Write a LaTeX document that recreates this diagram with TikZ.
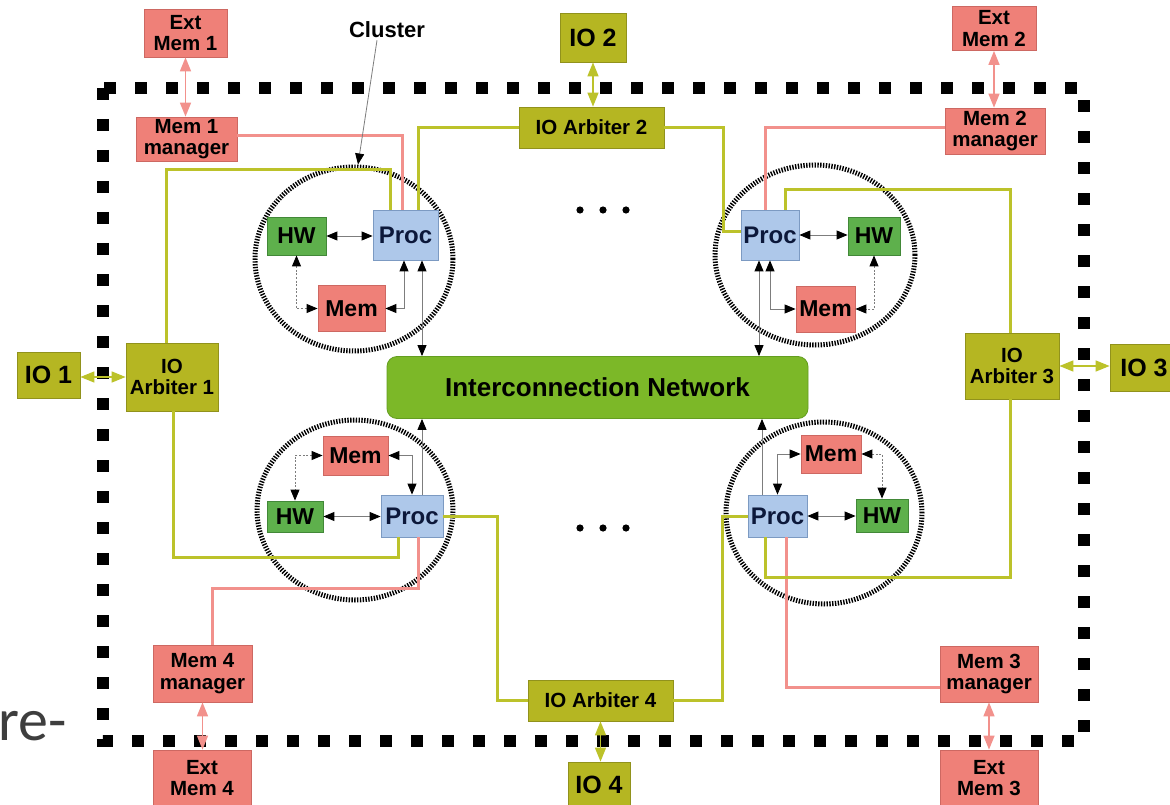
\documentclass[tikz,border=0pt]{standalone}
\usepackage{fontspec}
\setmainfont{Liberation Sans}
\newfontfamily\slidefont{Carlito}
\usetikzlibrary{arrows.meta,shapes.geometric}

\definecolor{cSalFill}{RGB}{239,128,120}
\definecolor{cSalLine}{RGB}{205,104,98}
\definecolor{cSalWire}{RGB}{242,145,140}
\definecolor{cOlvFill}{RGB}{181,182,34}
\definecolor{cOlvLine}{RGB}{145,146,28}
\definecolor{cOlvWire}{RGB}{188,194,42}
\definecolor{cHwFill}{RGB}{94,176,76}
\definecolor{cHwLine}{RGB}{66,136,56}
\definecolor{cProcFill}{RGB}{174,200,234}
\definecolor{cProcLine}{RGB}{124,154,194}
\definecolor{cProcText}{RGB}{12,24,58}
\definecolor{cNetFill}{RGB}{124,184,40}
\definecolor{cNetLine}{RGB}{100,158,32}
\definecolor{cLink}{RGB}{125,125,125}
\definecolor{cSlide}{RGB}{62,62,62}

\tikzset{
  blk/.tip={Triangle[length=11pt,width=9pt,color=black]},
  salt/.tip={Triangle[length=14pt,width=11pt,color=cSalWire]},
  olvt/.tip={Triangle[length=14pt,width=11pt,color=cOlvWire]},
}

\begin{document}
\begin{tikzpicture}[x=1pt,y=-1pt,
  lbl/.style={font=\bfseries\fontsize{20.5}{21.5}\selectfont, align=center, inner sep=0pt, line width=0.8pt},
  salbox/.style={lbl, fill=cSalFill, draw=cSalLine},
  olvbox/.style={lbl, fill=cOlvFill, draw=cOlvLine},
  iobox/.style={olvbox, font=\bfseries\fontsize{25}{27}\selectfont},
  hwbox/.style={lbl, fill=cHwFill, draw=cHwLine, font=\bfseries\fontsize{23}{25}\selectfont},
  procbox/.style={lbl, fill=cProcFill, draw=cProcLine, text=cProcText, font=\bfseries\fontsize{24}{26}\selectfont},
  membox/.style={lbl, fill=cSalFill, draw=cSalLine, font=\bfseries\fontsize{23}{25}\selectfont},
  netbox/.style={lbl, fill=cNetFill, draw=cNetLine, rounded corners=10pt, font=\bfseries\fontsize{26}{28}\selectfont},
  cluster/.style={ellipse, draw=black, line width=5pt, dash pattern=on 1.4pt off 1.4pt, inner sep=0pt},
  salw/.style={draw=cSalWire, line width=3pt},
  olw/.style={draw=cOlvWire, line width=3pt},
  link/.style={draw=cLink, line width=0.9pt, arrows={blk-blk}},
  uplink/.style={draw=cLink, line width=0.9pt, arrows={-blk}},
  dlink/.style={link, dash pattern=on 2pt off 1.6pt},
  salarrow/.style={draw=cSalWire, line width=1.5pt, arrows={salt-salt}},
  olvarrow/.style={draw=cOlvWire, line width=1.5pt, arrows={olvt-olvt}},
  chipborder/.style={draw=black, line width=12pt, dash pattern=on 12pt off 19pt},
]
\useasboundingbox (0,0) rectangle (1170,805);
\fill[white] (0,0) rectangle (1170,805);

% leftover slide text at the lower left
\node[anchor=base west, inner sep=0pt, text=cSlide, font=\slidefont\fontsize{60}{66}\selectfont] (slidetext) at (-2,740) {re-};

% chip boundary
\draw[chipborder] (103,88) rectangle (1084,741);

% clusters
\node[cluster, minimum width=198pt, minimum height=184pt] (clTL) at (354,259) {};
\node[cluster, minimum width=200pt, minimum height=180pt] (clTR) at (815,255) {};
\node[cluster, minimum width=196pt, minimum height=180pt] (clBL) at (355,510) {};
\node[cluster, minimum width=196pt, minimum height=182pt] (clBR) at (824,513) {};

% external memories, managers, IO
\node[salbox, minimum width=83pt, minimum height=48pt] (ext1) at (185.5,33) {Ext\\Mem 1};
\node[salbox, minimum width=101pt, minimum height=44pt] (mgr1) at (186.5,139) {Mem 1\\manager};
\node[iobox, minimum width=66pt, minimum height=49pt] (io2) at (593,37.5) {IO 2};
\node[olvbox, minimum width=145pt, minimum height=41pt] (arb2) at (591.5,127.5) {IO Arbiter 2};
\node[salbox, minimum width=84pt, minimum height=44pt] (ext2) at (994,28.5) {Ext\\Mem 2};
\node[salbox, minimum width=100pt, minimum height=46pt] (mgr2) at (995,131) {Mem 2\\manager};
\node[iobox, minimum width=63pt, minimum height=46pt] (io1) at (48.5,375) {IO 1};
\node[olvbox, minimum width=92pt, minimum height=68pt] (arb1) at (172,377) {IO\\Arbiter 1};
\node[olvbox, minimum width=94pt, minimum height=66pt] (arb3) at (1012,366) {IO\\Arbiter 3};
\node[iobox, minimum width=68pt, minimum height=47pt] (io3) at (1144,367.5) {IO 3};
\node[salbox, minimum width=99pt, minimum height=57pt] (mgr4) at (202.5,673.5) {Mem 4\\manager};
\node[salbox, minimum width=98pt, minimum height=56pt] (ext4) at (202,778) {Ext\\Mem 4};
\node[olvbox, minimum width=145pt, minimum height=41pt] (arb4) at (600.5,700.5) {IO Arbiter 4};
\node[iobox, minimum width=62pt, minimum height=46pt] (io4) at (599,785) {IO 4};
\node[salbox, minimum width=98pt, minimum height=56pt] (mgr3) at (989,674) {Mem 3\\manager};
\node[salbox, minimum width=98pt, minimum height=56pt] (ext3) at (989,778) {Ext\\Mem 3};

% interconnection network
\node[netbox, minimum width=421pt, minimum height=62pt] (net) at (597.5,387.5) {Interconnection Network};

% cluster contents
\node[hwbox, minimum width=59pt, minimum height=38pt] (hwTL) at (296.5,236) {HW};
\node[procbox, minimum width=65pt, minimum height=50pt] (procTL) at (405.5,235) {Proc};
\node[membox, minimum width=67pt, minimum height=46pt] (memTL) at (351.5,308.5) {Mem};

\node[procbox, minimum width=58pt, minimum height=50pt] (procTR) at (770,235) {Proc};
\node[hwbox, minimum width=52pt, minimum height=38pt] (hwTR) at (874,236) {HW};
\node[membox, minimum width=59pt, minimum height=46pt] (memTR) at (825.5,309) {Mem};

\node[membox, minimum width=65pt, minimum height=39pt] (memBL) at (355.5,455.5) {Mem};
\node[hwbox, minimum width=56pt, minimum height=31pt] (hwBL) at (295,516.5) {HW};
\node[procbox, minimum width=62pt, minimum height=42pt] (procBL) at (412,516) {Proc};

\node[membox, minimum width=60pt, minimum height=38pt] (memBR) at (831,454) {Mem};
\node[procbox, minimum width=59pt, minimum height=42pt] (procBR) at (777.5,516) {Proc};
\node[hwbox, minimum width=52pt, minimum height=33pt] (hwBR) at (882,515.5) {HW};

% memory manager wires
\draw[salw] ([yshift=3pt]mgr1.east) -| ([xshift=-3.5pt]procTL.north);
\draw[salw] ([yshift=3pt]mgr2.west) -| ([xshift=-5pt]procTR.north);
\draw[salw] ([xshift=6pt]procBL.south) -- ++(0,51) -| ([xshift=9.5pt]mgr4.north);
\draw[salw] ([xshift=8.5pt]procBR.south) |- ([yshift=-13pt]mgr3.west);

% IO arbiter wires
\draw[olw] ([xshift=-15.5pt]procTL.north) -- ++(0,-40) -| ([xshift=-6pt]arb1.north);
\draw[olw] ([xshift=12.5pt]procTL.north) |- (arb2.west);
\draw[olw] (arb2.east) -- ++(59,0) |- ([yshift=3pt]procTR.west);
\draw[olw] ([xshift=15pt]procTR.north) -- ++(0,-20) -| ([xshift=-2pt]arb3.north);
\draw[olw] ([xshift=-14pt]procBL.south) -- ++(0,20) -| ([xshift=1pt]arb1.south);
\draw[olw] (procBL.east) -- ++(54,0) |- (arb4.west);
\draw[olw] (arb4.east) -- ++(49,0) |- (procBR.west);
\draw[olw] ([xshift=-12.5pt]procBR.south) -- ++(0,40) -| ([xshift=-2pt]arb3.south);

% links inside the clusters
\draw[link] (hwTL.east) -- (hwTL.east -| procTL.west);
\draw[dlink] (hwTL.south) |- (memTL.west);
\draw[link] (memTL.east) -| ([xshift=-1.5pt]procTL.south);
\coordinate (tlbus) at ([xshift=16.5pt]procTL.south);
\draw[link] (tlbus) -- (tlbus |- net.north);

\draw[link] (procTR.east) -- (procTR.east -| hwTR.west);
\draw[dlink] (hwTR.south) |- (memTR.east);
\draw[link] (memTR.west) -| (procTR.south);
\coordinate (trbus) at ([xshift=-11pt]procTR.south);
\draw[link] (trbus) -- (trbus |- net.north);

\draw[link] (hwBL.east) -- (hwBL.east -| procBL.west);
\draw[dlink] (memBL.west) -| (hwBL.north);
\draw[link] (memBL.east) -| (procBL.north);
\coordinate (blbus) at ([xshift=10pt]procBL.north);
\draw[uplink] (blbus) -- (blbus |- net.south);

\draw[link] (procBR.east) -- (procBR.east -| hwBR.west);
\draw[dlink] (memBR.east) -| (hwBR.north);
\draw[link] (memBR.west) -| (procBR.north);
\coordinate (brbus) at ([xshift=-15.5pt]procBR.north);
\draw[uplink] (brbus) -- (brbus |- net.south);

% off-chip links
\draw[salarrow] (ext1.south) -- (ext1.south |- mgr1.north);
\draw[olvarrow] (io2.south) -- (io2.south |- arb2.north);
\draw[salarrow] (ext2.south) -- (ext2.south |- mgr2.north);
\draw[olvarrow] ([yshift=-2pt]io1.east) -- ([yshift=-2pt]io1.east -| arb1.west);
\draw[olvarrow] (arb3.east) -- (arb3.east -| io3.west);
\draw[salarrow] (mgr4.south) -- (mgr4.south |- ext4.north);
\draw[olvarrow] (arb4.south) -- (arb4.south |- io4.north);
\draw[salarrow] (mgr3.south) -- (mgr3.south |- ext3.north);

% ellipsis marks between clusters
\foreach \dx in {580,603,626}{
  \fill (\dx,210) circle[radius=3.6pt];
  \fill (\dx,528) circle[radius=3.6pt];
}

% cluster callout
\node[font=\bfseries\fontsize{22}{24}\selectfont, inner sep=2pt] (clusterlbl) at (387,30) {Cluster};
\draw[draw=cLink, line width=0.8pt, arrows={-blk}] ([xshift=-10pt]clusterlbl.south) -- ([xshift=4pt]clTL.north);
\end{tikzpicture}
\end{document}
